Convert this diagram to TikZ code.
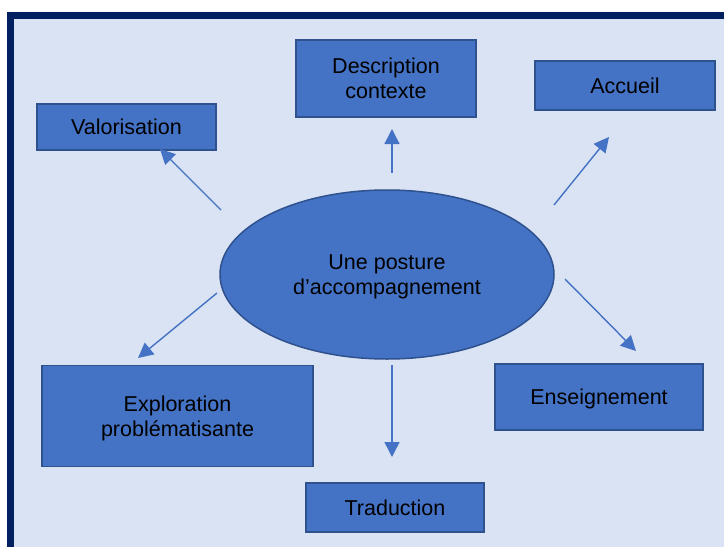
\documentclass[tikz,border=0pt]{standalone}
\usepackage{fontspec}
\setmainfont{Liberation Sans}
\usetikzlibrary{arrows.meta,shapes.geometric}
\definecolor{bgc}{HTML}{DAE3F3}
\definecolor{framec}{HTML}{002060}
\definecolor{boxc}{HTML}{4472C4}
\definecolor{boxline}{HTML}{2F528F}
\tikzset{
  box/.style={draw=boxline, line width=1.5pt, fill=boxc, rectangle, inner sep=0pt,
    align=center, font=\fontsize{21.5}{25}\selectfont, text=black, text depth=0pt},
  conn/.style={draw=boxc, line width=1.4pt, -{Triangle[length=15pt,width=15pt]}}
}
\begin{document}
\begin{tikzpicture}[x=1pt,y=-1pt]
\useasboundingbox (0,0) rectangle (724,547);
\clip (0,0) rectangle (724,547);
\fill[white] (0,0) rectangle (724,547);
\draw[fill=bgc, draw=framec, line width=7pt] (10,15.5) rectangle (740,570);
% nodes
\node[box, minimum width=180pt, minimum height=77pt] (desc) at (386,78.5) {Description\\contexte};
\node[box, minimum width=180pt, minimum height=49pt] (acc) at (625,85.5) {Accueil};
\node[box, minimum width=179pt, minimum height=46pt] (val) at (126.5,127) {Valorisation};
\node[box, ellipse, minimum width=334pt, minimum height=169pt] (ell) at (387,274.5) {Une posture\\d’accompagnement};
\node[box, minimum width=271pt, minimum height=101pt] (expl) at (177.5,416) {Exploration\\problématisante};
\node[box, minimum width=208pt, minimum height=66pt] (ens) at (599,397) {Enseignement};
\node[box, minimum width=178pt, minimum height=49pt] (trad) at (395,507.5) {Traduction};
% connector ends
\coordinate (s1) at (392,173);  \coordinate (e1) at (392,129);
\coordinate (s2) at (554,205);  \coordinate (e2) at (609,137);
\coordinate (s3) at (221,210);  \coordinate (e3) at (160,149);
\coordinate (s4) at (217,293);  \coordinate (e4) at (138,358);
\coordinate (s5) at (392,365);  \coordinate (e5) at (392,457);
\coordinate (s6) at (565,279);  \coordinate (e6) at (636,351);
\draw[conn] (s1) -- (e1);
\draw[conn] (s2) -- (e2);
\draw[conn] (s3) -- (e3);
\draw[conn] (s4) -- (e4);
\draw[conn] (s5) -- (e5);
\draw[conn] (s6) -- (e6);
\end{tikzpicture}
\end{document}
